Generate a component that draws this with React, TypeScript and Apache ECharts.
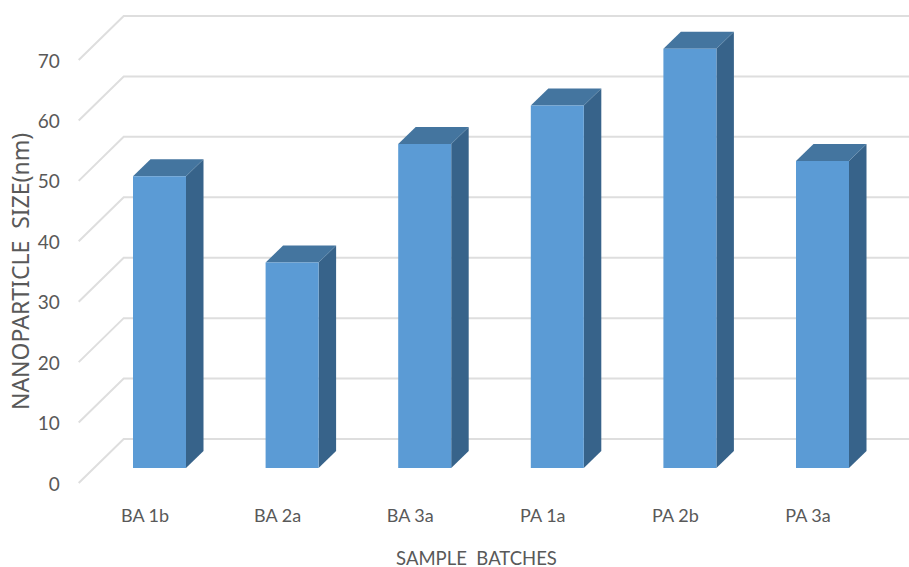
import React, { useEffect, useRef } from "react";
import * as echarts from "echarts";

const batches = ["BA 1b", "BA 2a", "BA 3a", "PA 1a", "PA 2b", "PA 3a"];
const sizes = [48.3, 34, 53.6, 60, 69.4, 50.8];
const yTicks = [0, 10, 20, 30, 40, 50, 60, 70];

const FRONT = "#5B9BD5";
const TOP = "#44759F";
const SIDE = "#37638A";
const GRID = "#DEDEDE";
const TEXT = "#595959";
const LABEL_FONT = "Lato, 'Noto Sans', sans-serif";

// Depth of the floor, and how far into it the columns stand.
const WALL_DX = 45;
const WALL_DY = 44;
const BAR_SHIFT_X = 14.5;
const BAR_SHIFT_Y = 15;
const BAR_W = 53;
const BAR_DX = 17.5;
const BAR_DY = 17;

function renderWallLine(params: any, api: any) {
  const [, y] = api.coord([0, api.value(0)]);
  const left = params.coordSys.x;
  return {
    type: "polyline",
    silent: true,
    shape: {
      points: [
        [left, y],
        [left + WALL_DX, y - WALL_DY],
        [909, y - WALL_DY],
      ],
    },
    style: { stroke: GRID, lineWidth: 2, fill: "none" },
  };
}

function renderColumn(_params: any, api: any) {
  const [cx, yTop] = api.coord([api.value(0), api.value(1)]);
  const [, yBase] = api.coord([api.value(0), 0]);
  const l = cx + BAR_SHIFT_X - BAR_W / 2;
  const r = l + BAR_W;
  const t = yTop - BAR_SHIFT_Y;
  const b = yBase - BAR_SHIFT_Y;
  return {
    type: "group",
    children: [
      {
        type: "polygon",
        shape: { points: [[r, t], [r + BAR_DX, t - BAR_DY], [r + BAR_DX, b - BAR_DY], [r, b]] },
        style: { fill: SIDE },
      },
      {
        type: "polygon",
        shape: { points: [[l, t], [l + BAR_DX, t - BAR_DY], [r + BAR_DX, t - BAR_DY], [r, t]] },
        style: { fill: TOP },
      },
      {
        type: "rect",
        shape: { x: l, y: t, width: BAR_W, height: b - t },
        style: { fill: FRONT },
      },
    ],
  };
}

export default function App() {
  const ref = useRef<HTMLDivElement>(null);

  useEffect(() => {
    const chart = echarts.init(ref.current!, undefined, { renderer: "svg" });
    chart.setOption({
      animation: false,
      backgroundColor: "#FFFFFF",
      grid: { left: 78.7, right: 34.7, top: 60, bottom: 84, outerBoundsMode: "none" },
      xAxis: {
        type: "category",
        data: batches,
        axisLine: { show: false },
        axisTick: { show: false },
        axisLabel: { color: TEXT, fontFamily: LABEL_FONT, fontSize: 18, margin: 23 },
        name: "SAMPLE  BATCHES",
        nameLocation: "middle",
        nameGap: 65,
        nameTextStyle: { color: TEXT, fontFamily: LABEL_FONT, fontSize: 18.5 },
      },
      yAxis: {
        type: "value",
        min: 0,
        max: 70,
        interval: 10,
        axisLine: { show: false },
        axisTick: { show: false },
        splitLine: { show: false },
        axisLabel: { color: TEXT, fontFamily: LABEL_FONT, fontSize: 19, margin: 19 },
        name: "NANOPARTICLE  SIZE(nm)",
        nameLocation: "middle",
        nameMoveOverlap: false,
        nameGap: 47,
        nameTextStyle: { color: TEXT, fontFamily: "'Noto Sans', sans-serif", fontSize: 23 },
      },
      series: [
        {
          type: "custom",
          name: "wall",
          coordinateSystem: "cartesian2d",
          clip: false,
          silent: true,
          z: 1,
          encode: { y: 0 },
          data: yTicks.map((t) => [t]),
          renderItem: renderWallLine,
        },
        {
          type: "custom",
          name: "Nanoparticle size",
          coordinateSystem: "cartesian2d",
          clip: false,
          z: 2,
          encode: { x: 0, y: 1 },
          data: sizes.map((v, i) => [i, v]),
          renderItem: renderColumn,
        },
      ],
    });
    return () => chart.dispose();
  }, []);

  return <div ref={ref} style={{ position: "fixed", left: 0, top: 0, width: 909, height: 567 }} />;
}
